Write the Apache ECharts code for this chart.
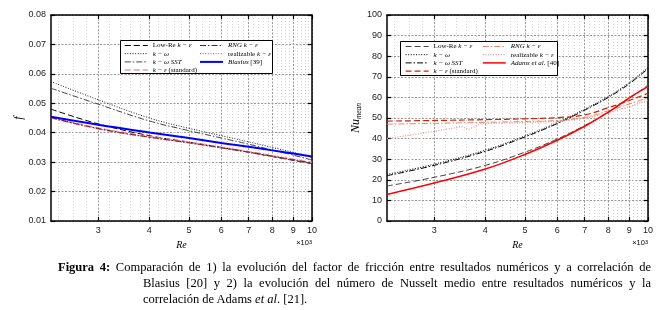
<!DOCTYPE html>
<html><head><meta charset="utf-8">
<script src="https://cdn.jsdelivr.net/npm/echarts@6/dist/echarts.min.js"></script>
<style>
html,body{margin:0;padding:0;background:#fff;}
#wrap{position:relative;width:661px;height:310px;overflow:hidden;}
#chart{position:absolute;left:0;top:0;width:661px;height:310px;}
#cap{position:absolute;left:58px;top:259px;width:593px;font-family:'Liberation Serif','Times New Roman',serif;font-size:12.5px;line-height:16px;color:#000;}
#cap div{text-align:justify;text-align-last:justify;}
#cap div.ind{margin-left:85px;}
#cap div.last{text-align:left;text-align-last:left;}
</style></head>
<body><div id="wrap"><div id="chart"></div>
<div id="cap">
<div><b>Figura 4:</b> Comparación de 1) la evolución del factor de fricción entre resultados numéricos y a correlación de</div>
<div class="ind">Blasius [20] y 2) la evolución del número de Nusselt medio entre resultados numéricos y la</div>
<div class="ind last">correlación de Adams <i>et al</i>. [21].</div>
</div></div>
<script>
// ---- data (Re in thousands) ----
const re = [2.3, 3, 4, 5, 6, 7, 8, 9, 10];
const reRealizableNu = [2.3, 3, 3.5, 3.65, 3.9, 5, 6, 7, 8, 9, 10];
const xTicks = [3, 4, 5, 6, 7, 8, 9, 10];
const yTicksF = [0.01, 0.02, 0.03, 0.04, 0.05, 0.06, 0.07, 0.08];
const yTicksNu = [0, 10, 20, 30, 40, 50, 60, 70, 80, 90, 100];

// friction factor f
const fLowRe      = [0.0480, 0.0430, 0.0390, 0.0368, 0.0350, 0.0334, 0.0319, 0.0306, 0.0295];
const fKOmega     = [0.0574, 0.0512, 0.0450, 0.0415, 0.0390, 0.0369, 0.0350, 0.0333, 0.0316];
const fKOmegaSST  = [0.0551, 0.0497, 0.0440, 0.0407, 0.0382, 0.0361, 0.0341, 0.0324, 0.0307];
const fStandard   = [0.0453, 0.0416, 0.0387, 0.0368, 0.0351, 0.0336, 0.0322, 0.0310, 0.0299];
const fRNG        = [0.0451, 0.0414, 0.0385, 0.0366, 0.0349, 0.0334, 0.0320, 0.0308, 0.0297];
const fRealizable = [0.0450, 0.0413, 0.0384, 0.0365, 0.0348, 0.0333, 0.0319, 0.0307, 0.0296];
const fBlasius    = [0.0454, 0.0427, 0.0401, 0.0382, 0.0365, 0.0352, 0.0340, 0.0329, 0.0319];

// mean Nusselt number
const nuLowRe      = [17.0, 21.2, 27.0, 33.4, 39.8, 46.3, 52.8, 59.5, 66.0];
const nuKOmega     = [22.6, 27.6, 34.4, 41.3, 47.8, 54.3, 60.5, 67.2, 74.6];
const nuKOmegaSST  = [22.0, 27.0, 33.8, 40.8, 47.3, 53.8, 60.0, 66.6, 74.0];
const nuStandard   = [48.5, 48.8, 49.2, 49.6, 50.2, 51.5, 55.0, 58.5, 62.0];
const nuRNG        = [47.0, 47.4, 47.9, 48.3, 48.8, 50.3, 53.5, 56.8, 59.8];
const nuRealizable = [40.0, 43.5, 45.8, 44.5, 47.3, 47.8, 48.3, 49.8, 52.5, 55.5, 58.7];
const nuAdams      = [12.9, 18.4, 25.2, 32.3, 39.2, 46.0, 52.8, 59.8, 65.2];

// ---- helpers ----
const pairs = (xs, ys) => xs.map((x, i) => [x, ys[i]]);
const minorTicks = [];
for (let k = 24; k < 100; k += 2) { if (k % 10 !== 0) minorTicks.push(k / 10); }

const SANS = 'Liberation Sans';
const SERIF = 'Liberation Serif';
const DASH = [6, 3], DOT = [1, 1.6], DASHDOT = [6, 2, 1.5, 2];

const legendText = {
  L1: '{r|Low-Re }{i|k − ε}', L2: '{i|k − ω}', L3: '{i|k − ω SST}', L4: '{i|k − ε} {r|(standard)}',
  L5: '{i|RNG k − ε}', L6: '{r|realizable }{i|k − ε}', L7: '{i|Blasius} {r|[39]}',
  R1: '{r|Low-Re }{i|k − ε}', R2: '{i|k − ω}', R3: '{i|k − ω SST}', R4: '{i|k − ε} {r|(standard)}',
  R5: '{i|RNG k − ε}', R6: '{r|realizable }{i|k − ε}', R7: '{i|Adams et al.} {r|[40]}'
};
const rich = {
  r: { fontFamily: SERIF, fontSize: 7, color: '#000' },
  i: { fontFamily: SERIF, fontSize: 7, fontStyle: 'italic', color: '#000' }
};

function mkLegend(names, left, top) {
  return {
    data: names, left: left, top: top, orient: 'vertical', padding: 0, z: 8,
    itemWidth: 23, itemHeight: 7, itemGap: 1.2, selectedMode: false,
    itemStyle: { opacity: 0 },
    lineStyle: { width: 'inherit' },
    formatter: n => legendText[n],
    textStyle: { fontFamily: SERIF, fontSize: 7, color: '#000', rich: rich, lineHeight: 7 }
  };
}

function xAxes(gridIndex) {
  const base = { type: 'log', logBase: 10, min: 2.3, max: 10, gridIndex: gridIndex };
  return [
    Object.assign({}, base, {
      position: 'bottom',
      axisLine: { show: true, onZero: false, lineStyle: { color: '#000', width: 1.5 } },
      axisTick: { show: true, inside: true, length: 4, customValues: xTicks, lineStyle: { color: '#000', width: 1.2 } },
      axisLabel: { customValues: xTicks, margin: 5, fontFamily: SANS, fontSize: 9, color: '#222',
        formatter: v => String(Math.round(v)) },
      splitLine: { show: true, lineStyle: { color: '#999', type: [2, 1.5], width: 1 } },
      minorTick: { show: false }, minorSplitLine: { show: false },
      name: 'Re', nameLocation: 'middle', nameGap: 16,
      nameTextStyle: { fontFamily: SERIF, fontStyle: 'italic', fontSize: 10, color: '#000' }
    }),
    Object.assign({}, base, {
      position: 'top',
      axisLine: { show: true, onZero: false, lineStyle: { color: '#000', width: 1.5 } },
      axisTick: { show: true, inside: true, length: 4, customValues: xTicks, lineStyle: { color: '#000', width: 1.2 } },
      axisLabel: { show: false }, splitLine: { show: false }
    }),
    Object.assign({}, base, {
      position: 'bottom',
      axisLine: { show: false },
      axisTick: { show: false, customValues: minorTicks },
      axisLabel: { show: false, customValues: minorTicks },
      splitLine: { show: true, lineStyle: { color: '#d4d4d4', type: [1, 2], width: 1 } }
    })
  ];
}

function yAxes(gridIndex, min, max, interval, name, nameGap, fmt) {
  return [
    {
      type: 'value', gridIndex: gridIndex, min: min, max: max, interval: interval, position: 'left',
      axisLine: { show: true, onZero: false, lineStyle: { color: '#000', width: 1.5 } },
      axisTick: { show: true, inside: true, length: 4, lineStyle: { color: '#000', width: 1.2 } },
      axisLabel: { margin: 5, fontFamily: SANS, fontSize: 9, color: '#222', formatter: fmt },
      splitLine: { show: true, lineStyle: { color: '#999', type: [2, 1.5], width: 1 } },
      name: name, nameLocation: 'middle', nameGap: nameGap, nameRotate: 90,
      nameTextStyle: {
        fontFamily: SERIF, fontStyle: 'italic', fontSize: 12, color: '#000',
        rich: {
          a: { fontFamily: SERIF, fontStyle: 'italic', fontSize: 12, color: '#000', lineHeight: 14 },
          b: { fontFamily: SERIF, fontStyle: 'italic', fontSize: 7.5, color: '#000', verticalAlign: 'bottom', lineHeight: 10 }
        }
      }
    },
    {
      type: 'value', gridIndex: gridIndex, min: min, max: max, interval: interval, position: 'right',
      axisLine: { show: true, onZero: false, lineStyle: { color: '#000', width: 1.5 } },
      axisTick: { show: true, inside: true, length: 4, lineStyle: { color: '#000', width: 1.2 } },
      axisLabel: { show: false }, splitLine: { show: false }
    }
  ];
}

function line(name, xi, yi, data, color, dash, width) {
  return {
    name: name, type: 'line', xAxisIndex: xi, yAxisIndex: yi, data: data,
    showSymbol: false, symbol: 'none', smooth: 0.4, z: 2,
    lineStyle: { color: color, type: dash, width: width }, itemStyle: { color: color },
    emphasis: { disabled: true }
  };
}

const chart = echarts.init(document.getElementById('chart'), null, { renderer: 'canvas' });
const option = {
  animation: false,
  backgroundColor: '#fff',
  grid: [
    { left: 51, top: 15, width: 261, height: 206 },
    { left: 387, top: 15, width: 261, height: 206 }
  ],
  xAxis: xAxes(0).concat(xAxes(1)),
  yAxis: yAxes(0, 0.01, 0.08, 0.01, 'f', 25, v => v.toFixed(2))
    .concat(yAxes(1, 0, 100, 10, '{a|Nu}{b|mean}', 14, v => String(v))),
  legend: [
    mkLegend(['L1', 'L2', 'L3', 'L4'], 124, 42),
    mkLegend(['L5', 'L6', 'L7'], 199, 42),
    mkLegend(['R1', 'R2', 'R3', 'R4'], 405, 43),
    mkLegend(['R5', 'R6', 'R7'], 482, 43)
  ],
  graphic: [
    { type: 'rect', shape: { x: 120.5, y: 40.5, width: 152, height: 33 },
      style: { fill: '#fff', stroke: '#000', lineWidth: 1 }, z: 3 },
    { type: 'rect', shape: { x: 400.5, y: 41.5, width: 157, height: 34 },
      style: { fill: '#fff', stroke: '#000', lineWidth: 1 }, z: 3 },
    { type: 'text', x: 312, y: 239, z: 10,
      style: { text: '{a|×10}{b|3}', align: 'right',
        rich: { a: { fontFamily: SANS, fontSize: 7.5, color: '#222' }, b: { fontFamily: SANS, fontSize: 5.5, color: '#222', verticalAlign: 'top' } } } },
    { type: 'text', x: 648, y: 239, z: 10,
      style: { text: '{a|×10}{b|3}', align: 'right',
        rich: { a: { fontFamily: SANS, fontSize: 7.5, color: '#222' }, b: { fontFamily: SANS, fontSize: 5.5, color: '#222', verticalAlign: 'top' } } } }
  ],
  series: [
    line('L1', 0, 0, pairs(re, fLowRe), '#000000', DASH, 1),
    line('L2', 0, 0, pairs(re, fKOmega), '#222222', DOT, 1),
    line('L3', 0, 0, pairs(re, fKOmegaSST), '#454545', DASHDOT, 1),
    line('L4', 0, 0, pairs(re, fStandard), '#e0a0a8', DASH, 1.5),
    line('L5', 0, 0, pairs(re, fRNG), '#8b1010', DASHDOT, 1.2),
    line('L6', 0, 0, pairs(re, fRealizable), '#c0406a', DOT, 1),
    line('L7', 0, 0, pairs(re, fBlasius), '#0000ff', 'solid', 2),
    line('R1', 3, 2, pairs(re, nuLowRe), '#444444', DASH, 1),
    line('R2', 3, 2, pairs(re, nuKOmega), '#000000', DOT, 1),
    line('R3', 3, 2, pairs(re, nuKOmegaSST), '#000000', DASHDOT, 1),
    line('R4', 3, 2, pairs(re, nuStandard), '#d02000', DASH, 1.2),
    line('R5', 3, 2, pairs(re, nuRNG), '#e88870', DASHDOT, 1),
    Object.assign(line('R6', 3, 2, pairs(reRealizableNu, nuRealizable), '#f09090', DOT, 1.2), { smooth: false }),
    line('R7', 3, 2, pairs(re, nuAdams), '#ff0000', 'solid', 1.5)
  ]
};
chart.setOption(option);
</script>
</body></html>
